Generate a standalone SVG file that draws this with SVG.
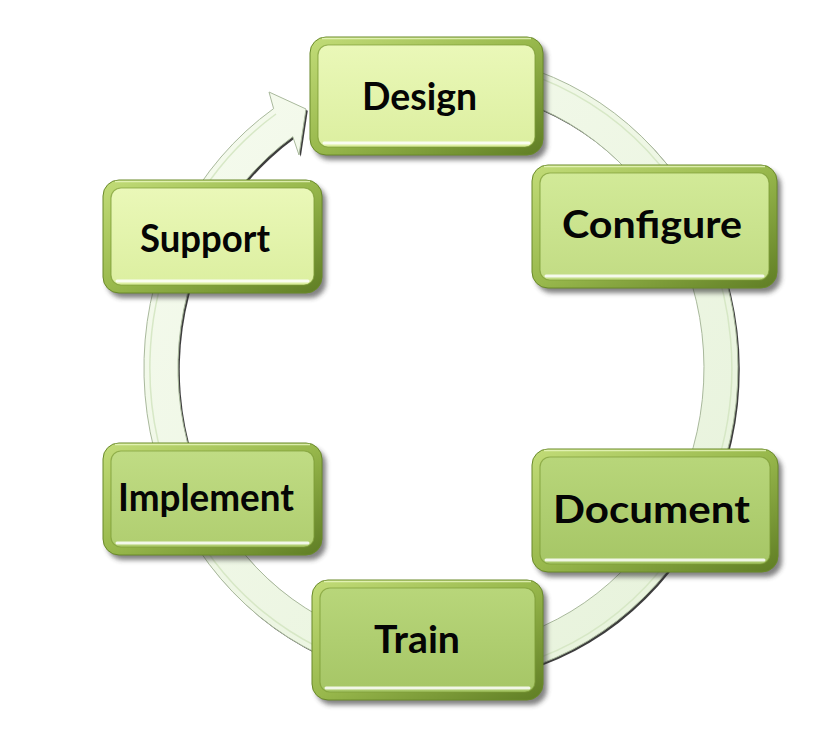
<svg xmlns="http://www.w3.org/2000/svg" width="840" height="739" viewBox="0 0 840 739">
<defs>
<style>
.lbl{font-family:Lato,"Open Sans","Liberation Sans",sans-serif;font-weight:bold;font-size:38px;fill:#050505;text-anchor:middle}
.shadow{fill:#2e2e2e;opacity:.6;filter:url(#blur)}
.frame{fill:url(#gFrame);stroke:#6a8a2a;stroke-width:1}
.frameTop{fill:none;stroke:#eaf7c0;stroke-width:1.5;opacity:.8}
.hl{fill:none;stroke:#ffffff;stroke-width:3;stroke-linecap:round;opacity:.85}
.inner{fill:none;stroke:#7d9c38;stroke-width:1.2;opacity:.7}
.fLight{fill:url(#gLight)}
.fMid{fill:url(#gMid)}
.fDark{fill:url(#gDark)}
.fImp{fill:url(#gImp)}
</style>
<filter id="blur" x="-10%" y="-10%" width="120%" height="130%"><feGaussianBlur stdDeviation="2.5"/></filter>
<filter id="blur1" x="-5%" y="-5%" width="110%" height="110%"><feGaussianBlur stdDeviation="0.7"/></filter>
<linearGradient id="gFrame" x1="0" y1="0" x2="1" y2="1">
<stop offset="0" stop-color="#c2dc78"/>
<stop offset="0.5" stop-color="#98b84c"/>
<stop offset="1" stop-color="#5f7d24"/>
</linearGradient>
<linearGradient id="gLight" x1="0" y1="0" x2="0" y2="1">
<stop offset="0" stop-color="#eaf8b8"/>
<stop offset="1" stop-color="#dcefa0"/>
</linearGradient>
<linearGradient id="gMid" x1="0" y1="0" x2="0" y2="1">
<stop offset="0" stop-color="#d2ea98"/>
<stop offset="1" stop-color="#c2dc84"/>
</linearGradient>
<linearGradient id="gDark" x1="0" y1="0" x2="0" y2="1">
<stop offset="0" stop-color="#b8d67a"/>
<stop offset="1" stop-color="#a6c666"/>
</linearGradient>
<linearGradient id="gImp" x1="0" y1="0" x2="0" y2="1">
<stop offset="0" stop-color="#c0dc84"/>
<stop offset="1" stop-color="#b0ce70"/>
</linearGradient>
<linearGradient id="gRing" x1="0" y1="0" x2="1" y2="1">
<stop offset="0" stop-color="#f6fbef"/>
<stop offset="1" stop-color="#e6f2da"/>
</linearGradient>
</defs>
<rect width="840" height="739" fill="#ffffff"/>

<g id="connectors">
<path d="M451.4,54.2 A297,314 0 1,1 273.6,108.6 L269,92 L306,109 L299,155 L292.8,136.7 A263,280 0 1,0 450.2,88.2 Z" fill="#1e1e1e" opacity="0.85" transform="translate(1.8,1.8)" filter="url(#blur1)"/>
<path d="M451.4,54.2 A297,314 0 1,1 273.6,108.6 L269,92 L306,109 L299,155 L292.8,136.7 A263,280 0 1,0 450.2,88.2 Z" fill="url(#gRing)" stroke="#a9b99c" stroke-width="1"/>
<path d="M451,60 A291,308 0 1,1 276,114" fill="none" stroke="#d4e6c2" stroke-width="1.5" opacity="0.9"/>
</g>

<g id="design">
<rect class="shadow" x="314" y="42" width="233" height="118" rx="16"/>
<rect class="frame" x="310" y="37" width="233" height="118" rx="16"/>
<rect class="fLight" x="318" y="45" width="217" height="102" rx="10"/>
<rect class="inner" x="318" y="45" width="217" height="102" rx="10"/>
<path class="frameTop" d="M322 38.5 H531"/>
<path class="hl" d="M324 143 H529"/>
<text class="lbl" x="419.5" y="110" textLength="115" lengthAdjust="spacingAndGlyphs">Design</text>
</g>

<g id="configure">
<rect class="shadow" x="536" y="170" width="245" height="123" rx="16"/>
<rect class="frame" x="532" y="165" width="245" height="123" rx="16"/>
<rect class="fMid" x="540" y="173" width="229" height="107" rx="10"/>
<rect class="inner" x="540" y="173" width="229" height="107" rx="10"/>
<path class="frameTop" d="M544 166.5 H765"/>
<path class="hl" d="M546 276 H763"/>
<text class="lbl" x="652" y="238" textLength="180" lengthAdjust="spacingAndGlyphs">Configure</text>
</g>

<g id="document">
<rect class="shadow" x="536" y="454" width="246" height="123" rx="16"/>
<rect class="frame" x="532" y="449" width="246" height="123" rx="16"/>
<rect class="fDark" x="540" y="457" width="230" height="107" rx="10"/>
<rect class="inner" x="540" y="457" width="230" height="107" rx="10"/>
<path class="frameTop" d="M544 450.5 H766"/>
<path class="hl" d="M546 560 H764"/>
<text class="lbl" x="651.5" y="523" font-size="40" textLength="197" lengthAdjust="spacingAndGlyphs">Document</text>
</g>

<g id="train">
<rect class="shadow" x="316" y="585" width="231" height="120" rx="16"/>
<rect class="frame" x="312" y="580" width="231" height="120" rx="16"/>
<rect class="fDark" x="320" y="588" width="215" height="104" rx="10"/>
<rect class="inner" x="320" y="588" width="215" height="104" rx="10"/>
<path class="frameTop" d="M324 581.5 H531"/>
<path class="hl" d="M326 688 H529"/>
<text class="lbl" x="417" y="653" textLength="86" lengthAdjust="spacingAndGlyphs">Train</text>
</g>

<g id="implement">
<rect class="shadow" x="107" y="448" width="219" height="112" rx="16"/>
<rect class="frame" x="103" y="443" width="219" height="112" rx="16"/>
<rect class="fImp" x="111" y="451" width="203" height="96" rx="10"/>
<rect class="inner" x="111" y="451" width="203" height="96" rx="10"/>
<path class="frameTop" d="M115 444.5 H310"/>
<path class="hl" d="M117 543 H308"/>
<text class="lbl" x="206" y="511" textLength="176" lengthAdjust="spacingAndGlyphs">Implement</text>
</g>

<g id="support">
<rect class="shadow" x="107" y="185" width="219" height="113" rx="16"/>
<rect class="frame" x="103" y="180" width="219" height="113" rx="16"/>
<rect class="fLight" x="111" y="188" width="203" height="97" rx="10"/>
<rect class="inner" x="111" y="188" width="203" height="97" rx="10"/>
<path class="frameTop" d="M115 181.5 H310"/>
<path class="hl" d="M117 281 H308"/>
<text class="lbl" x="205" y="252" textLength="130" lengthAdjust="spacingAndGlyphs">Support</text>
</g>
</svg>
